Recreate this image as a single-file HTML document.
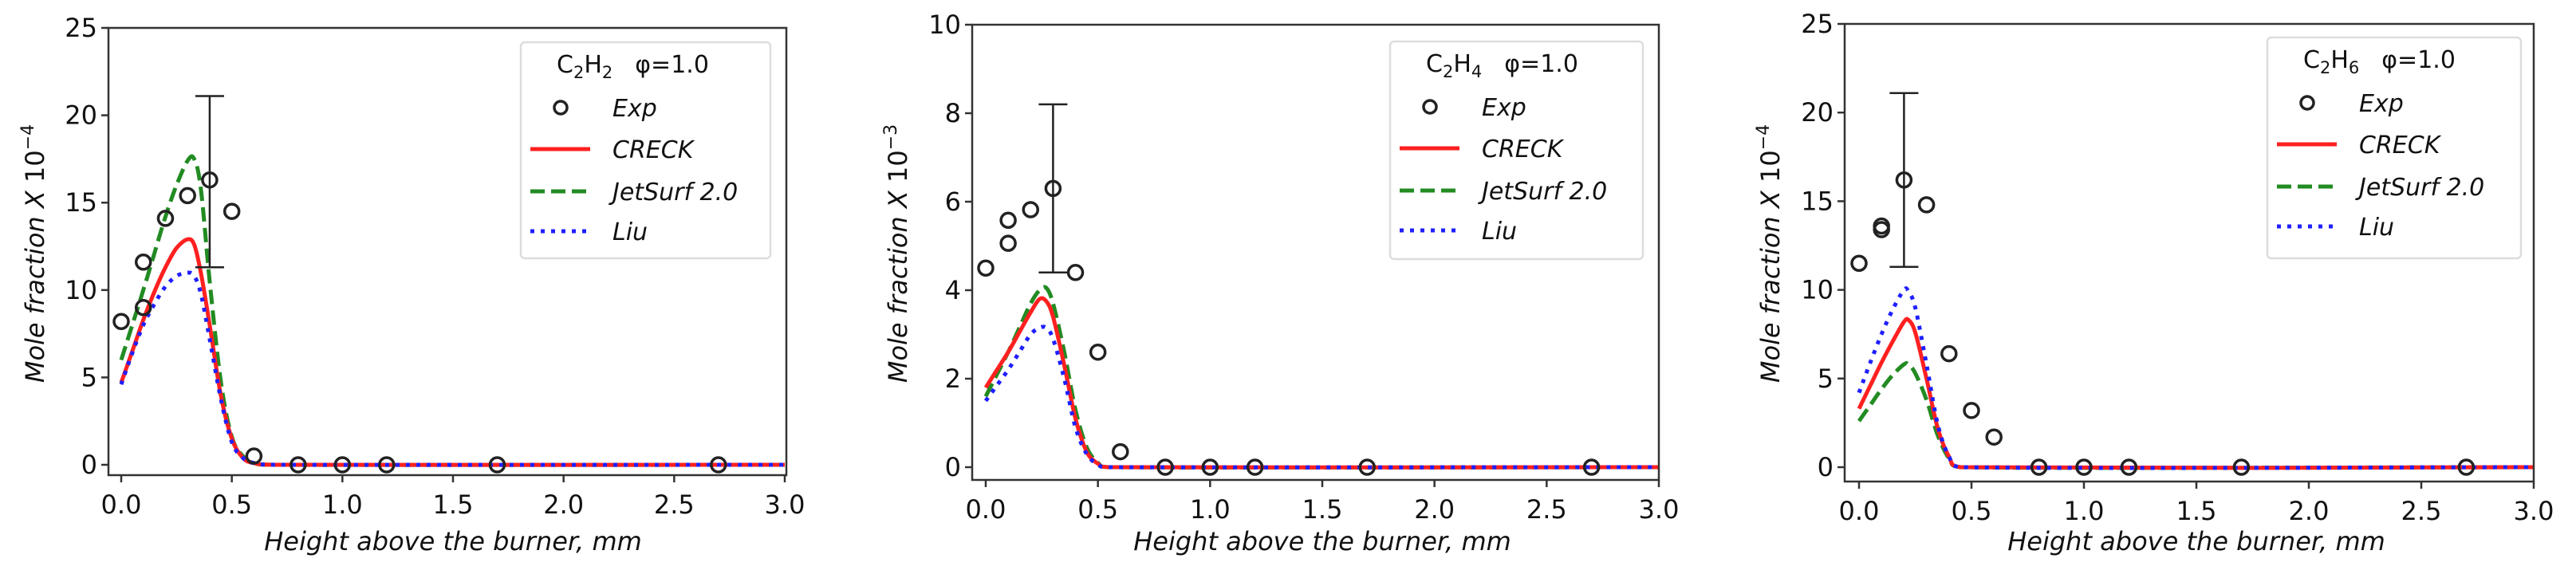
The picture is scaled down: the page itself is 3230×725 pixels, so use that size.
<!DOCTYPE html>
<html><head><meta charset="utf-8">
<style>
html,body{margin:0;padding:0;background:#fff;}
svg{display:block;font-family:"DejaVu Sans","Liberation Sans",sans-serif;}
</style></head>
<body>
<svg id="fig" width="3230" height="725" viewBox="0 0 3230 725" xmlns="http://www.w3.org/2000/svg"></svg>
<script>
// ---- data ----
const expX = [0, 0.1, 0.1, 0.2, 0.3, 0.4, 0.5, 0.6, 0.8, 1.0, 1.2, 1.7, 2.7];
const c2h2Exp = [8.2, 9.0, 11.6, 14.1, 15.4, 16.3, 14.5, 0.5, 0, 0, 0, 0, 0];
const c2h2ErrX = [0.4];
const c2h2ErrLo = [11.3];
const c2h2ErrHi = [21.1];
const c2h2ModelX = [0, 0.05, 0.1, 0.15, 0.2, 0.25, 0.3, 0.33, 0.36, 0.4, 0.45, 0.5, 0.55, 0.6, 0.7, 3.0];
const c2h2Creck = [4.7, 6.5, 8.3, 9.9, 11.3, 12.4, 12.9, 12.6, 11.0, 8.0, 4.0, 1.5, 0.4, 0.1, 0, 0];
const c2h2Jet = [6.0, 8.0, 10.0, 12.1, 14.2, 16.0, 17.4, 17.5, 15.8, 10.5, 4.8, 1.6, 0.5, 0.1, 0, 0];
const c2h2Liu = [4.6, 6.4, 8.0, 9.2, 10.2, 10.8, 11.0, 10.8, 9.8, 7.2, 3.8, 1.3, 0.4, 0.1, 0, 0];

const c2h4Exp = [4.5, 5.06, 5.58, 5.82, 6.3, 4.4, 2.6, 0.35, 0, 0, 0, 0, 0];
const c2h4ErrX = [0.3];
const c2h4ErrLo = [4.4];
const c2h4ErrHi = [8.2];
const c2h4ModelX = [0, 0.05, 0.1, 0.15, 0.2, 0.24, 0.27, 0.3, 0.35, 0.4, 0.45, 0.5, 0.55, 3.0];
const c2h4Creck = [1.8, 2.2, 2.6, 3.05, 3.5, 3.8, 3.75, 3.4, 2.3, 1.1, 0.35, 0.08, 0, 0];
const c2h4Jet = [1.6, 2.1, 2.6, 3.15, 3.7, 4.0, 4.05, 3.7, 2.6, 1.3, 0.45, 0.1, 0, 0];
const c2h4Liu = [1.5, 1.85, 2.2, 2.6, 3.0, 3.15, 3.15, 2.9, 2.0, 0.9, 0.3, 0.06, 0, 0];

const c2h6Exp = [11.5, 13.4, 13.6, 16.2, 14.8, 6.4, 3.2, 1.7, 0, 0, 0, 0, 0];
const c2h6ErrX = [0.2];
const c2h6ErrLo = [11.3];
const c2h6ErrHi = [21.1];
const c2h6ModelX = [0, 0.05, 0.1, 0.15, 0.2, 0.22, 0.25, 0.3, 0.35, 0.4, 0.45, 3.0];
const c2h6Creck = [3.3, 4.6, 5.9, 7.1, 8.2, 8.3, 7.6, 5.0, 2.2, 0.6, 0, 0];
const c2h6Jet = [2.6, 3.5, 4.4, 5.2, 5.8, 5.8, 5.3, 3.8, 1.8, 0.5, 0, 0];
const c2h6Liu = [4.2, 5.9, 7.5, 8.9, 10.0, 9.9, 9.0, 5.8, 2.4, 0.6, 0, 0];

const xTicks = [0, 0.5, 1.0, 1.5, 2.0, 2.5, 3.0];
const xTickLabels = ["0.0", "0.5", "1.0", "1.5", "2.0", "2.5", "3.0"];
const yTicks25 = [0, 5, 10, 15, 20, 25];
const yTicks10 = [0, 2, 4, 6, 8, 10];

const NS = "http://www.w3.org/2000/svg";
const fig = document.getElementById("fig");
function mk(tag, attrs, parent) {
  const e = document.createElementNS(NS, tag);
  for (const k in attrs) e.setAttribute(k, attrs[k]);
  (parent || fig).appendChild(e);
  return e;
}
function smoothPath(P) {
  let d = "M" + P[0][0].toFixed(1) + "," + P[0][1].toFixed(1);
  for (let i = 0; i < P.length - 1; i++) {
    const p0 = P[Math.max(0, i-1)], p1 = P[i], p2 = P[i+1], p3 = P[Math.min(P.length-1, i+2)];
    let c1x = p1[0] + (p2[0]-p0[0])/6, c1y = p1[1] + (p2[1]-p0[1])/6;
    let c2x = p2[0] - (p3[0]-p1[0])/6, c2y = p2[1] - (p3[1]-p1[1])/6;
    // keep control points within segment x-range
    c1x = Math.min(Math.max(c1x, p1[0]), p2[0]); c2x = Math.min(Math.max(c2x, p1[0]), p2[0]);
    d += " C" + c1x.toFixed(1) + "," + c1y.toFixed(1) + " " + c2x.toFixed(1) + "," + c2y.toFixed(1) + " " + p2[0].toFixed(1) + "," + p2[1].toFixed(1);
  }
  return d;
}

const panels = [
  {key:"c2h2", box:[136,35,986,596], x0px:152, x3px:984, ymax:25, y0px:583, ytopPx:35, yTicks:yTicks25, exp:c2h2Exp, errX:c2h2ErrX, errLo:c2h2ErrLo, errHi:c2h2ErrHi, mx:c2h2ModelX, creck:c2h2Creck, jet:c2h2Jet, liu:c2h2Liu, sp:"2", exp10:"−4", leg:[653,53,966,324], ylabX:44},
  {key:"c2h4", box:[1219,31,2080,602], x0px:1236, x3px:2080, ymax:10, y0px:586, ytopPx:31, yTicks:yTicks10, exp:c2h4Exp, errX:c2h4ErrX, errLo:c2h4ErrLo, errHi:c2h4ErrHi, mx:c2h4ModelX, creck:c2h4Creck, jet:c2h4Jet, liu:c2h4Liu, sp:"4", exp10:"−3", leg:[1743,52,2060,325], ylabX:1126},
  {key:"c2h6", box:[2313,30,3177,604], x0px:2331, x3px:3177, ymax:25, y0px:586, ytopPx:30, yTicks:yTicks25, exp:c2h6Exp, errX:c2h6ErrX, errLo:c2h6ErrLo, errHi:c2h6ErrHi, mx:c2h6ModelX, creck:c2h6Creck, jet:c2h6Jet, liu:c2h6Liu, sp:"6", exp10:"−4", leg:[2843,47,3161,324], ylabX:2220}
];

panels.forEach(function(p, pi) {
  const g = mk("g", {});
  
  
  const sx = v => p.x0px + v * (p.x3px - p.x0px) / 3;
  const sy = v => p.y0px - v * (p.y0px - p.ytopPx) / p.ymax;
  const [L, T, R, B] = p.box;

  const cp = mk("clipPath", {id:"clip" + pi}, g);
  mk("rect", {x:L, y:T, width:R-L, height:B-T}, cp);

  const plot = mk("g", {"clip-path":"url(#clip"+pi+")"}, g);
  const pts = arr => smoothPath(arr.map((v,i) => [sx(p.mx[i]), sy(v)]));
  const lj = mk("path", {d:pts(p.jet), fill:"none", stroke:"#228b22", "stroke-width":5, "stroke-dasharray":"18,8", "stroke-linejoin":"round"}, plot);
  
  
  const lc = mk("path", {d:pts(p.creck), fill:"none", stroke:"#ff2020", "stroke-width":5, "stroke-linejoin":"round"}, plot);
  
  
  const ll = mk("path", {d:pts(p.liu), fill:"none", stroke:"#1f1fff", "stroke-width":5, "stroke-dasharray":"5,8"}, plot);
  
  

  p.errX.forEach(function(ex, i) {
    const eg = mk("g", {stroke:"#222", "stroke-width":2.5}, g);
    
    
    mk("line", {x1:sx(ex), x2:sx(ex), y1:sy(p.errLo[i]), y2:sy(p.errHi[i])}, eg);
    mk("line", {x1:sx(ex)-18, x2:sx(ex)+18, y1:sy(p.errLo[i]), y2:sy(p.errLo[i])}, eg);
    mk("line", {x1:sx(ex)-18, x2:sx(ex)+18, y1:sy(p.errHi[i]), y2:sy(p.errHi[i])}, eg);
  });

  p.exp.forEach(function(v, i) {
    const c = mk("circle", {cx:sx(expX[i]), cy:sy(v), r:9, fill:"none", stroke:"#222", "stroke-width":3.5}, g);
    
    
  });

  const sp = mk("rect", {x:L, y:T, width:R-L, height:B-T, fill:"none", stroke:"#333", "stroke-width":2.5}, g);
  
  

  xTicks.forEach(function(t, i) {
    mk("line", {x1:sx(t), x2:sx(t), y1:B, y2:B+9, stroke:"#333", "stroke-width":2.5}, g);
    const tx = mk("text", {x:sx(t), y:B+48, "text-anchor":"middle", "font-size":32, fill:"#111"}, g);
    tx.textContent = xTickLabels[i];
    
    
  });
  p.yTicks.forEach(function(t) {
    mk("line", {x1:L-9, x2:L, y1:sy(t), y2:sy(t), stroke:"#333", "stroke-width":2.5}, g);
    const ty = mk("text", {x:L-14, y:sy(t)+11, "text-anchor":"end", "font-size":32, fill:"#111"}, g);
    ty.textContent = String(t);
    
    
  });

  const xl = mk("text", {x:(sx(0)+sx(3))/2, y:690, "text-anchor":"middle", "font-size":32, "font-style":"italic", fill:"#111"}, g);
  xl.textContent = "Height above the burner, mm";
  
  

  const yl = mk("text", {x:0, y:0, "text-anchor":"middle", "font-size":32, fill:"#111", transform:"translate("+(p.ylabX+11)+",318) rotate(-90)"}, g);
  
  
  const t1 = mk("tspan", {"font-style":"italic"}, yl); t1.textContent = "Mole fraction X ";
  const t2 = mk("tspan", {}, yl); t2.textContent = "10";
  const t3 = mk("tspan", {dy:-13, "font-size":22}, yl); t3.textContent = p.exp10;

  const [lL, lT, lR, lB] = p.leg;
  const lg = mk("g", {}, g);
  
  
  mk("rect", {x:lL, y:lT, width:lR-lL, height:lB-lT, rx:5, fill:"#fff", stroke:"#ddd", "stroke-width":2.5}, lg);
  const tt = mk("text", {x:lL+45, y:lT+38, "font-size":30, fill:"#111"}, lg);
  
  
  const a = mk("tspan", {}, tt); a.textContent = "C";
  const b = mk("tspan", {dy:7, "font-size":21}, tt); b.textContent = "2";
  const c = mk("tspan", {dy:-7}, tt); c.textContent = "H";
  const d = mk("tspan", {dy:7, "font-size":21}, tt); d.textContent = p.sp;
  const e = mk("tspan", {dy:-7, dx:28}, tt); e.textContent = "φ=1.0";

  const rows = [lT+93, lT+145, lT+198, lT+248];
  const names = ["Exp", "CRECK", "JetSurf 2.0", "Liu"];
  mk("circle", {cx:lL+50, cy:rows[0]-11, r:8, fill:"none", stroke:"#222", "stroke-width":3.5}, lg);
  mk("line", {x1:lL+12, x2:lL+87, y1:rows[1]-11, y2:rows[1]-11, stroke:"#ff2020", "stroke-width":5}, lg);
  mk("line", {x1:lL+12, x2:lL+87, y1:rows[2]-11, y2:rows[2]-11, stroke:"#228b22", "stroke-width":5, "stroke-dasharray":"18,8"}, lg);
  mk("line", {x1:lL+12, x2:lL+87, y1:rows[3]-11, y2:rows[3]-11, stroke:"#1f1fff", "stroke-width":5, "stroke-dasharray":"5,8"}, lg);
  names.forEach(function(n, i) {
    const lt = mk("text", {x:lL+115, y:rows[i], "font-size":30, "font-style":"italic", fill:"#111"}, lg);
    lt.textContent = n;
    
    
  });
});
</script>
</body></html>
